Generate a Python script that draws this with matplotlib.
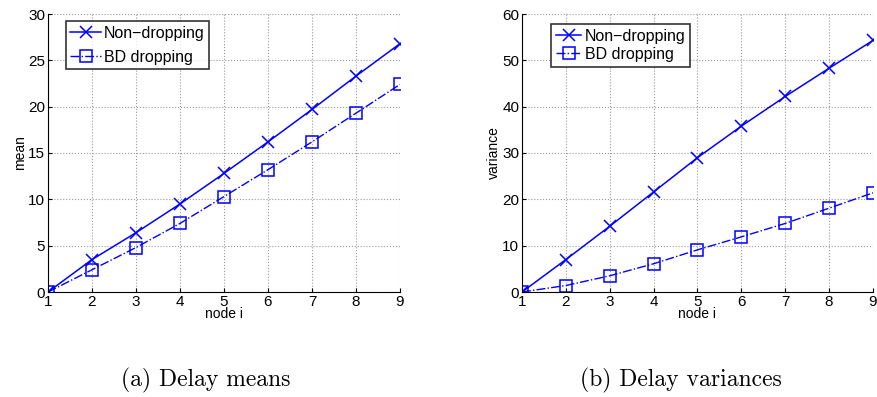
import matplotlib.pyplot as plt
import numpy as np

nodes = [1, 2, 3, 4, 5, 6, 7, 8, 9]
mean_nondrop = [0, 3.5, 6.4, 9.5, 12.8, 16.2, 19.7, 23.3, 26.8]
mean_bd = [0, 2.4, 4.8, 7.4, 10.3, 13.2, 16.2, 19.3, 22.4]
var_nondrop = [0, 7.0, 14.2, 21.6, 29.0, 35.8, 42.2, 48.3, 54.3]
var_bd = [0, 1.4, 3.5, 6.1, 9.1, 11.9, 14.8, 18.1, 21.4]

plt.rcParams['font.family'] = ['Liberation Sans', 'DejaVu Sans']
blue = '#0000ff'

fig = plt.figure(figsize=(8.78, 3.97), dpi=100)
W, H = 878, 397


def panel(rect, y1, y2, ymax, ylabel, caption, cx, leg_anchor, hlen, lspace):
    l, t, r, b = rect
    ax = fig.add_axes([l / W, 1 - b / H, (r - l) / W, (b - t) / H])
    ax.plot(nodes, y1, '-', color=blue, marker='x', ms=9, mew=1.1, lw=1.1,
            label='Non\u2212dropping')
    ax.plot(nodes, y2, '-.', color=blue, marker='s', ms=9, mfc='none', mew=1.1,
            lw=1.0, label='BD dropping')
    ax.set_xlim(1, 9)
    ax.set_ylim(0, ymax)
    ax.set_xticks(nodes)
    ax.grid(True, linestyle=':', color='#999999', lw=0.8)
    ax.spines['top'].set_visible(False)
    ax.spines['right'].set_visible(False)
    ax.tick_params(direction='in', labelsize=11, length=3, pad=2)
    ax.set_xlabel('node i', fontsize=10, labelpad=-1)
    ax.set_ylabel(ylabel, fontsize=10, labelpad=1)
    leg = ax.legend(loc='upper left', bbox_to_anchor=leg_anchor, fontsize=11.5,
                    frameon=True, fancybox=False, edgecolor='black',
                    borderpad=0.3, labelspacing=lspace, handlelength=hlen,
                    handletextpad=0.2, borderaxespad=0)
    leg.get_frame().set_linewidth(1.2)
    fig.text(cx / W, 1 - 380 / H, caption, family='cmr10', fontsize=17,
             ha='center', va='center')
    return ax


panel((48, 14, 400, 292), mean_nondrop, mean_bd, 30, 'mean',
      '(a) Delay means', 206, (0.05, 0.975), 1.9, 0.55)
panel((522, 14, 873, 292), var_nondrop, var_bd, 60, 'variance',
      '(b) Delay variances', 681, (0.083, 0.965), 1.6, 0.2)

fig.savefig('out.png', dpi=100)
